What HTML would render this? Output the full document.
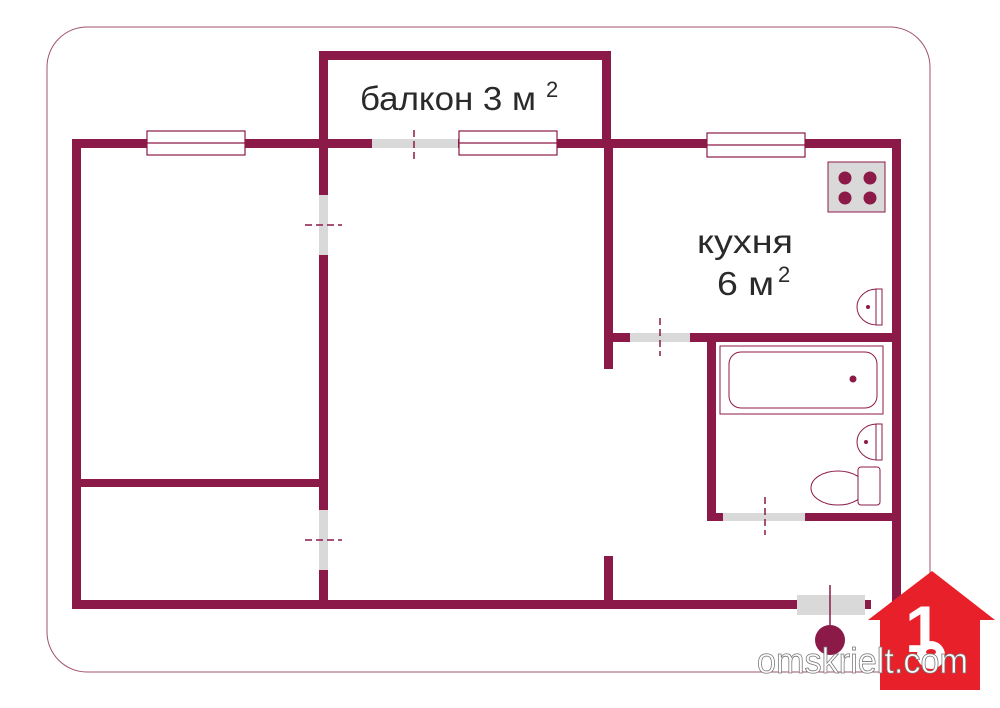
<!DOCTYPE html>
<html><head><meta charset="utf-8"><style>
html,body{margin:0;padding:0;background:#fff;}
svg{display:block;}
text{font-family:"Liberation Sans",sans-serif;}
</style></head><body>
<svg width="1000" height="708" viewBox="0 0 1000 708" xmlns="http://www.w3.org/2000/svg">
<rect x="47" y="27" width="883" height="645" rx="40" fill="none" stroke="#a0506f" stroke-width="1"/>
<g fill="#8b1a48">
<rect x="319" y="51" width="292" height="9"/>
<rect x="319" y="51" width="9" height="97"/>
<rect x="602" y="51" width="9" height="97"/>
<rect x="72" y="139" width="829" height="9"/>
<rect x="72" y="139" width="9" height="470"/>
<rect x="72" y="600" width="799" height="9"/>
<rect x="892" y="139" width="9" height="470"/>
<rect x="319" y="139" width="9" height="470"/>
<rect x="72" y="479" width="256" height="8"/>
<rect x="604" y="139" width="9" height="230"/>
<rect x="604" y="556" width="9" height="53"/>
<rect x="604" y="333" width="297" height="9"/>
<rect x="707" y="333" width="9" height="188"/>
<rect x="707" y="513" width="194" height="8"/>
</g>
<g fill="#d9d9d9">
<rect x="372" y="139" width="86" height="9"/>
<rect x="319" y="195" width="9" height="60"/>
<rect x="319" y="510" width="9" height="60"/>
<rect x="630" y="333" width="60" height="9"/>
<rect x="723" y="513" width="82" height="8"/>
<rect x="797" y="595" width="68" height="20"/>
</g>
<g stroke="#8b1a48" stroke-width="1.5" stroke-dasharray="7,4" fill="none">
<line x1="414" y1="130" x2="414" y2="160"/>
<line x1="305" y1="225" x2="342" y2="225"/>
<line x1="305" y1="540" x2="342" y2="540"/>
<line x1="660" y1="318" x2="660" y2="356"/>
<line x1="765" y1="497" x2="765" y2="535"/>
</g>
<line x1="830" y1="585" x2="830" y2="630" stroke="#8b1a48" stroke-width="1.5"/>
<circle cx="830" cy="640" r="15" fill="#8b1a48"/>
<g fill="#fff" stroke="#8b1a48" stroke-width="1.2">
<rect x="147" y="131" width="98" height="24"/><line x1="147" y1="143" x2="245" y2="143"/>
<rect x="459" y="131" width="98" height="24"/><line x1="459" y1="143" x2="557" y2="143"/>
<rect x="707" y="133" width="98" height="24"/><line x1="707" y1="145" x2="805" y2="145"/>
</g>
<rect x="828" y="162" width="57" height="50" fill="#d9d9d9" stroke="#8b1a48" stroke-width="1"/>
<g fill="#8b1a48"><circle cx="845" cy="178" r="6.5"/><circle cx="870" cy="178" r="6.5"/><circle cx="845" cy="198" r="6.5"/><circle cx="870" cy="198" r="6.5"/></g>
<g fill="#fff" stroke="#8b1a48" stroke-width="1">
<path d="M877 289 A20 18 0 0 0 877 325 Z"/><rect x="876" y="289" width="6" height="36"/>
<path d="M877 424 A20 18 0 0 0 877 460 Z"/><rect x="876" y="424" width="6" height="36"/>
<rect x="720" y="346" width="163" height="68"/>
<rect x="729" y="352" width="148" height="56" rx="12"/>
<ellipse cx="838" cy="488" rx="27" ry="17"/>
<rect x="858" y="467" width="22" height="38" rx="3"/>
</g>
<circle cx="853" cy="379" r="3.5" fill="#8b1a48"/>
<circle cx="868" cy="307" r="2" fill="#8b1a48"/>
<circle cx="866" cy="442" r="2" fill="#8b1a48"/>
<text x="360" y="110" font-size="33" fill="#2a2a2a" textLength="176" lengthAdjust="spacingAndGlyphs">балкон 3 м</text>
<text x="546" y="97" font-size="22" fill="#2a2a2a">2</text>
<text x="697" y="253" font-size="33" fill="#2a2a2a" textLength="96" lengthAdjust="spacingAndGlyphs">кухня</text>
<text x="717" y="295" font-size="33" fill="#2a2a2a" textLength="57" lengthAdjust="spacingAndGlyphs">6 м</text>
<text x="778" y="282" font-size="22" fill="#2a2a2a">2</text>
<path d="M932 571 L995 620 L980 620 L980 690 L880 690 L880 620 L868 620 Z" fill="#e8202a"/>
<text x="905" y="652" font-size="66" font-weight="bold" fill="#fff">1</text>
<circle cx="931" cy="655" r="14" fill="#fff"/>
<ellipse cx="931" cy="652" rx="5" ry="3" fill="#e8202a"/>
<text x="757" y="673" font-size="36" fill="#fff" stroke="#777" stroke-width="0.8" textLength="211" lengthAdjust="spacingAndGlyphs">omskrielt.com</text>
</svg>
</body></html>
